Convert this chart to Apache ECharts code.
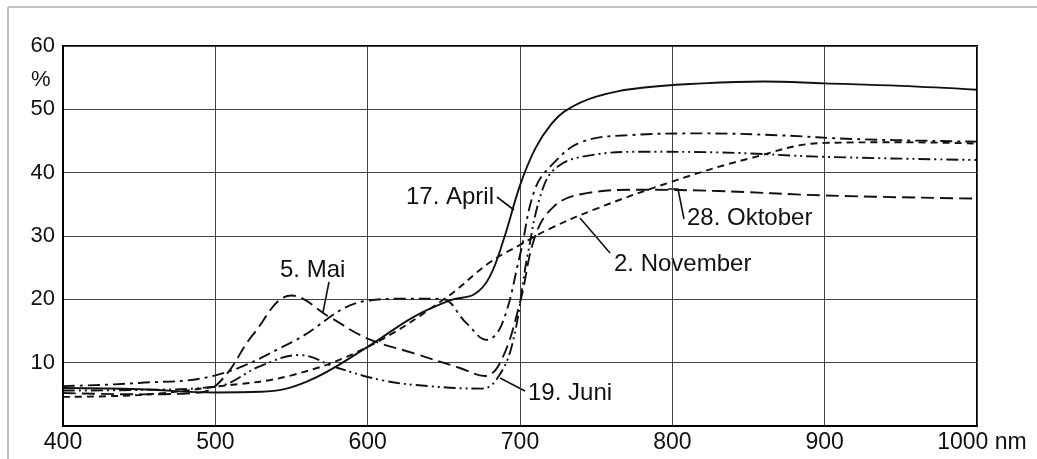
<!DOCTYPE html>
<html>
<head>
<meta charset="utf-8">
<title>Reflexion</title>
<script src="https://cdn.jsdelivr.net/npm/echarts@6/dist/echarts.min.js"></script>
<style>
html, body { margin: 0; padding: 0; background: #fff; }
#chart { width: 1037px; height: 459px; }
</style>
</head>
<body>
<div id="chart"></div>
<script>
// Wellenlaenge (nm) und Reflexion (%) je Kurve
var aprilNm  = [400, 450, 500, 530, 560, 600, 630, 655, 670, 680, 690, 700, 710, 720, 730, 750, 780, 820, 860, 900, 950, 1000];
var aprilPct = [6.0, 5.8, 5.3, 5.4, 7.0, 12.5, 17.2, 19.9, 20.8, 23.5, 30, 38, 43.8, 47.5, 49.8, 52, 53.4, 54.1, 54.4, 54.1, 53.7, 53.1];

var maiNm  = [400, 450, 500, 550, 600, 625, 648, 665, 678, 688, 700, 710, 722, 740, 770, 820, 870, 920, 1000];
var maiPct = [6.3, 6.8, 8.0, 13.2, 19.8, 20.1, 20.1, 16.2, 13.6, 16, 27, 37.5, 41.5, 44.8, 45.9, 46.2, 45.9, 45.3, 44.9];

var juniNm  = [400, 450, 500, 530, 555, 580, 610, 640, 675, 685, 695, 705, 715, 725, 745, 780, 830, 900, 1000];
var juniPct = [5.6, 5.7, 6.2, 9.5, 11.2, 9.2, 7.2, 6.3, 5.9, 7.5, 13, 27, 37.5, 41.0, 42.7, 43.3, 43.2, 42.5, 42.0];

var oktoberNm  = [400, 450, 490, 505, 525, 550, 575, 600, 630, 660, 677, 688, 700, 710, 722, 740, 780, 830, 900, 1000];
var oktoberPct = [5.2, 5.0, 5.3, 7.5, 14.5, 20.6, 17.2, 13.8, 11.5, 9.2, 7.9, 10.5, 19.5, 30, 34.6, 36.6, 37.3, 37.1, 36.4, 35.9];

var novemberNm  = [400, 450, 500, 550, 600, 650, 680, 700, 720, 750, 800, 850, 900, 950, 1000];
var novemberPct = [4.6, 4.9, 6.2, 8.0, 12.5, 20, 25.8, 28.6, 31.2, 34.3, 38.6, 42.2, 44.7, 44.8, 44.6];

var yTicks = [0, 10, 20, 30, 40, 50, 60];

function pairs(xs, ys) {
	var out = [];
	for (var i = 0; i < xs.length; i++) out.push([xs[i], ys[i]]);
	return out;
}

function curve(name, xs, ys, type) {
	return {
		name: name,
		type: 'line',
		data: pairs(xs, ys),
		smooth: 0.4,
		showSymbol: false,
		silent: true,
		lineStyle: { color: '#111', width: 1.9, type: type }
	};
}

var font = 'Liberation Sans, Arial, Helvetica, sans-serif';

function label(x, y, text, align) {
	return {
		type: 'text', x: x, y: y, silent: true,
		style: { text: text, fill: '#111', font: '24px ' + font, textAlign: align || 'left', textVerticalAlign: 'middle' }
	};
}

function leader(points) {
	return {
		type: 'polyline', silent: true,
		shape: { points: points },
		style: { stroke: '#111', lineWidth: 1.6, fill: null }
	};
}

var myChart = echarts.init(document.getElementById('chart'));
var option = {
	animation: false,
	backgroundColor: '#fff',
	grid: {
		left: 63, right: 60, top: 46, bottom: 33,
		show: true, borderColor: '#000', borderWidth: 2, backgroundColor: 'transparent'
	},
	xAxis: {
		type: 'value',
		min: 400, max: 1000, interval: 100,
		axisLine: { show: true, lineStyle: { color: '#000', width: 2 } },
		axisTick: { show: false },
		splitLine: { show: true, lineStyle: { color: '#444', width: 1 } },
		axisLabel: {
			color: '#111', fontSize: 23, fontFamily: font, margin: 5,
			formatter: function (v) { return v === 1000 ? '{n|1000 nm}' : String(v); },
			rich: { n: { fontSize: 23, fontFamily: font, color: '#111', padding: [0, 0, 0, 10] } }
		}
	},
	yAxis: {
		type: 'value',
		min: yTicks[0], max: yTicks[yTicks.length - 1], interval: 10,
		axisLine: { show: true, lineStyle: { color: '#000', width: 2 } },
		axisTick: { show: false },
		splitLine: { show: true, lineStyle: { color: '#444', width: 1 } },
		axisLabel: {
			color: '#111', fontSize: 22, fontFamily: font, margin: 8,
			formatter: function (v) { return v === 0 ? '' : String(v); }
		}
	},
	graphic: [
		{ type: 'line', silent: true, shape: { x1: 8, y1: 7, x2: 1037, y2: 7 }, style: { stroke: '#c0c0c0', lineWidth: 2 } },
		{ type: 'line', silent: true, shape: { x1: 8, y1: 7, x2: 8, y2: 459 }, style: { stroke: '#c0c0c0', lineWidth: 2 } },
		{ type: 'text', x: 31, y: 80, silent: true, style: { text: '%', fill: '#111', font: '22px ' + font, textVerticalAlign: 'middle' } },
		label(494, 197, '17. April', 'right'),
		label(280, 270, '5. Mai'),
		label(687, 218, '28. Oktober'),
		label(614, 264, '2. November'),
		label(528, 393, '19. Juni'),
		leader([[497, 197], [514, 210]]),
		leader([[329, 282], [323, 312]]),
		leader([[668, 189], [678, 189], [684, 219]]),
		leader([[580, 218], [610, 253]]),
		leader([[500, 378], [525, 391]])
	],
	series: [
		curve('17. April', aprilNm, aprilPct, 'solid'),
		curve('5. Mai', maiNm, maiPct, [12, 5, 3, 5]),
		curve('19. Juni', juniNm, juniPct, [12, 4, 2, 4, 2, 4]),
		curve('28. Oktober', oktoberNm, oktoberPct, [13, 6]),
		curve('2. November', novemberNm, novemberPct, [7, 5])
	]
};
myChart.setOption(option);
</script>
</body>
</html>
